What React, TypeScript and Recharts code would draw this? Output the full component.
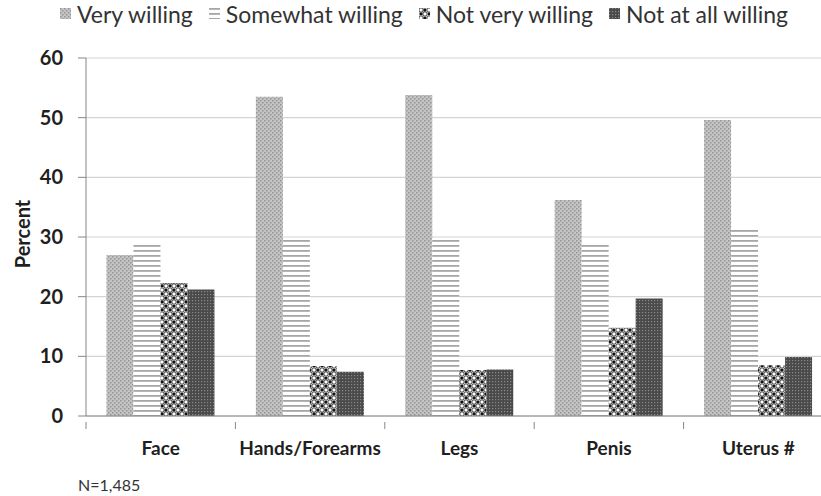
import React from 'react';
import { BarChart, Bar, XAxis, YAxis, CartesianGrid } from 'recharts';

const categories = ['Face', 'Hands/Forearms', 'Legs', 'Penis', 'Uterus #'];
const veryWilling = [27.0, 53.5, 53.8, 36.2, 49.6];
const somewhatWilling = [28.7, 29.6, 29.8, 29.0, 31.4];
const notVeryWilling = [22.3, 8.4, 7.7, 14.8, 8.5];
const notAtAllWilling = [21.2, 7.4, 7.8, 19.7, 9.9];
const yTicks = [0, 10, 20, 30, 40, 50, 60];
const seriesNames = ['Very willing', 'Somewhat willing', 'Not very willing', 'Not at all willing'];

const data = categories.map((c, i) => ({
  name: c,
  very: veryWilling[i],
  somewhat: somewhatWilling[i],
  notVery: notVeryWilling[i],
  notAtAll: notAtAllWilling[i],
}));

const FONT = 'Lato, "Open Sans", sans-serif';
const TEXT = '#1f1f1f';

const PatternDefs = ({ prefix }: { prefix: string }) => (
  <defs>
    <pattern id={`${prefix}-very`} width="4" height="4" patternUnits="userSpaceOnUse">
      <rect width="4" height="4" fill="#c4c4c4" />
      <rect x="0" y="0" width="1.5" height="1.5" fill="#949494" />
      <rect x="2" y="2" width="1.5" height="1.5" fill="#949494" />
    </pattern>
    <pattern id={`${prefix}-somewhat`} width="6" height="5" patternUnits="userSpaceOnUse">
      <rect width="6" height="5" fill="#ffffff" />
      <rect x="0" y="0" width="6" height="1.8" fill="#a6a6a6" />
    </pattern>
    <pattern id={`${prefix}-notvery`} width="8" height="8" patternUnits="userSpaceOnUse">
      <rect width="8" height="8" fill="#ffffff" />
      <rect x="4.5" y="0.5" width="3" height="3" fill="#111" />
      <rect x="0.5" y="4.5" width="3" height="3" fill="#111" />
      <circle cx="2" cy="2" r="2.2" fill="#fff" stroke="#222" strokeWidth="0.9" />
      <circle cx="6" cy="6" r="2.2" fill="#fff" stroke="#222" strokeWidth="0.9" />
    </pattern>
    <pattern id={`${prefix}-notatall`} width="3" height="3" patternUnits="userSpaceOnUse">
      <rect width="3" height="3" fill="#4a4a4a" />
      <rect x="0" y="0" width="1.2" height="1.2" fill="#8a8a8a" />
    </pattern>
  </defs>
);

const keys = ['very', 'somewhat', 'notvery', 'notatall'];

const LegendBox = () => (
  <div
    style={{
      position: 'absolute',
      left: 0,
      top: 0,
      width: 848,
      height: 28,
      display: 'flex',
      justifyContent: 'center',
      alignItems: 'center',
      fontFamily: FONT,
      fontSize: 23,
      color: '#333',
      gap: 16,
    }}
  >
    {seriesNames.map((n, i) => (
      <div key={n} style={{ display: 'flex', alignItems: 'center' }}>
        <svg width="12" height="12" style={{ marginRight: 5 }}>
          <PatternDefs prefix={`lg${i}`} />
          <rect width="11" height="11" fill={`url(#lg${i}-${keys[i]})`} />
        </svg>
        <span>{n}</span>
      </div>
    ))}
  </div>
);

const BAND = (833 - 86) / 5;

const XTick = (props: any) => {
  const { x, y, payload } = props;
  return (
    <g>
      <line x1={x - BAND / 2} x2={x - BAND / 2} y1={y - 2} y2={y + 5} stroke="#868686" strokeWidth={1} />
      <text
        x={x}
        y={y + 31}
        textAnchor="middle"
        fontFamily={FONT}
        fontWeight="bold"
        fontSize={19}
        fill={TEXT}
      >
        {payload.value}
      </text>
    </g>
  );
};

const PercentLabel = () => (
  <text
    x={0}
    y={0}
    transform="translate(30,234) rotate(-90)"
    textAnchor="middle"
    fontFamily={FONT}
    fontWeight="bold"
    fontSize={20}
    fill={TEXT}
  >
    Percent
  </text>
);

export default function App() {
  return (
    <div
      style={{
        position: 'absolute',
        left: 0,
        top: 0,
        width: 821,
        height: 496,
        overflow: 'hidden',
        background: '#fff',
      }}
    >
      <BarChart
        width={850}
        height={496}
        data={data}
        margin={{ top: 58, right: 17, bottom: 50, left: 0 }}
        barCategoryGap="13.7%"
        barGap={0}
      >
        <PatternDefs prefix="bar" />
        <CartesianGrid vertical={false} stroke="#d4d4d4" strokeWidth={1.2} />
        <XAxis
          dataKey="name"
          height={30}
          tick={<XTick />}
          tickLine={false}
          axisLine={{ stroke: '#868686' }}
          interval={0}
        />
        <YAxis
          width={86}
          domain={[0, 60]}
          ticks={yTicks}
          interval={0}
          tickSize={8}
          tickMargin={15}
          tickLine={{ stroke: '#868686' }}
          axisLine={{ stroke: '#868686' }}
          tick={{ fontFamily: FONT, fontWeight: 'bold', fontSize: 20, fill: TEXT }}
          label={<PercentLabel />}
        />
        <Bar dataKey="very" name={seriesNames[0]} fill="url(#bar-very)" isAnimationActive={false} />
        <Bar dataKey="somewhat" name={seriesNames[1]} fill="url(#bar-somewhat)" isAnimationActive={false} />
        <Bar dataKey="notVery" name={seriesNames[2]} fill="url(#bar-notvery)" isAnimationActive={false} />
        <Bar dataKey="notAtAll" name={seriesNames[3]} fill="url(#bar-notatall)" isAnimationActive={false} />
      </BarChart>
      <LegendBox />
      <div
        style={{
          position: 'absolute',
          left: 78,
          top: 475,
          fontFamily: FONT,
          fontSize: 16,
          color: '#333',
        }}
      >
        N=1,485
      </div>
    </div>
  );
}
